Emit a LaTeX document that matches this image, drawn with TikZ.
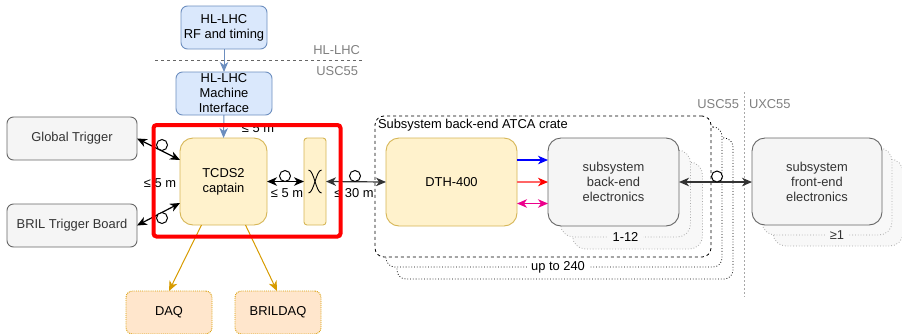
\documentclass[tikz,border=0pt]{standalone}
\usepackage{fontspec}
\setmainfont{Liberation Sans}
\usetikzlibrary{arrows.meta,calc}
\definecolor{bluefill}{HTML}{DAE8FC}
\definecolor{bluedraw}{HTML}{6C8EBF}
\definecolor{yelfill}{HTML}{FFF2CC}
\definecolor{yeldraw}{HTML}{D6B656}
\definecolor{grayfill}{HTML}{F5F5F5}
\definecolor{graydraw}{HTML}{666666}
\definecolor{graytext}{HTML}{333333}
\definecolor{orfill}{HTML}{FFE6CC}
\definecolor{ordraw}{HTML}{D79B00}
\definecolor{shadfill}{HTML}{F8F8F8}
\definecolor{shaddraw}{HTML}{A8A8A8}
\definecolor{labgray}{HTML}{808080}
\definecolor{lightred}{HTML}{FF6666}
\begin{document}
\begin{tikzpicture}[x=1pt,y=-1pt,
  font=\fontsize{12.9}{15}\selectfont,
  every node/.style={inner sep=0pt, outer sep=0pt, align=center},
  bluebox/.style={draw=bluedraw, fill=bluefill, rounded corners=6.5pt, line width=0.9pt},
  yelbox/.style={draw=yeldraw, fill=yelfill, rounded corners=13pt, line width=0.9pt},
  graybox/.style={draw=graydraw, fill=grayfill, rounded corners=6.5pt, line width=0.9pt, text=graytext},
  bigbox/.style={draw=graydraw, fill=grayfill, rounded corners=13pt, line width=0.9pt, text=graytext},
  shadbox/.style={draw=shaddraw, fill=shadfill, rounded corners=13pt, line width=0.8pt, dotted},
  orbox/.style={draw=ordraw, fill=orfill, rounded corners=6.5pt, line width=0.9pt, densely dotted},
  tipa/.tip={Stealth[length=10pt,width=8.5pt,inset=3pt]},
  link/.style={line width=1.2pt, draw=graytext, tipa-tipa},
  ring/.style={circle, draw=black, fill=white, line width=1pt, minimum size=11pt},
  dist/.style={fill=none},
  zone/.style={text=labgray}
]
\useasboundingbox (0,0) rectangle (902,333);

% ---- crate stacks (back to front)
\node[draw=black, fill=white, rounded corners=9pt, line width=0.8pt, dotted, minimum width=336pt, minimum height=141pt] (crate3) at (565,208.5) {};
\node[draw=black, fill=white, rounded corners=9pt, line width=0.8pt, dotted, minimum width=336pt, minimum height=140pt] (crate2) at (554,197) {};
\node[draw=black, fill=white, rounded corners=9pt, line width=0.8pt, dashed, minimum width=336pt, minimum height=141pt] (crate1) at (543,186.5) {};
\node[anchor=north west] (cratelab) at ($(crate1.north west)+(3,3)$) {Subsystem back-end ATCA crate};
\node[fill=white, inner xsep=4pt, inner ysep=1pt] (upto) at ($(crate2.south)+(4,0)$) {up to 240};

% ---- zone separators
\coordinate (hl) at (155,60.5);
\coordinate (hr) at (362,60.5);
\draw[draw=graydraw, dashed, line width=0.8pt] (hl) -- (hr);
\node[zone, anchor=east] (zhl) at (360,50) {HL-LHC};
\node[zone, anchor=east] (zusc) at (358,71) {USC55};
\coordinate (vt) at (744,92);
\coordinate (vb) at (744,297);
\draw[draw=shaddraw, dash pattern=on 2pt off 2pt, line width=0.9pt] (vt) -- (vb);
\node[zone, anchor=east] (zusc2) at (739,104) {USC55};
\node[zone, anchor=west] (zuxc) at (749,104) {UXC55};

% ---- top
\node[bluebox, minimum width=86pt, minimum height=43pt] (rf) at (224,27.5) {HL-LHC\\RF and timing};
\node[bluebox, minimum width=96pt, minimum height=43pt] (mi) at (224,93.5) {HL-LHC\\Machine\\Interface};

% ---- left
\node[graybox, minimum width=130pt, minimum height=43pt] (gt) at (72,138.5) {Global Trigger};
\node[graybox, minimum width=130pt, minimum height=43pt] (btb) at (72,225.5) {BRIL Trigger Board};

% ---- TCDS2 and cross-connect
\node[yelbox, minimum width=87pt, minimum height=87pt] (tcds) at (223.5,181.5) {TCDS2\\captain};
\node[yelbox, rounded corners=3pt, minimum width=22pt, minimum height=87pt] (xc) at (315,181.5) {};
\begin{scope}[shift={(xc.center)}]
\draw[line width=0.9pt] (-6.5,-11.5) .. controls (-1,-11.5) and (1,11.5) .. (6.5,11.5);
\draw[line width=0.9pt] (6.5,-11.5) .. controls (1,-11.5) and (-1,11.5) .. (-6.5,11.5);
\end{scope}

% ---- DTH and back-end
\node[yelbox, minimum width=131pt, minimum height=88pt] (dth) at (451.5,182) {DTH-400};
\node[shadbox, minimum width=130pt, minimum height=87pt] (be3) at (637.5,205.5) {};
\node[shadbox, minimum width=130pt, minimum height=87pt] (be2) at (625.5,193.5) {};
\node[fill=shadfill, inner xsep=5pt, inner ysep=1pt] (n112) at (be2.south) {1-12};
\node[bigbox, minimum width=131pt, minimum height=88pt] (be) at (613.5,182) {subsystem\\back-end\\electronics};

% ---- front-end
\node[shadbox, minimum width=130pt, minimum height=87pt] (fe3) at (838,202.5) {};
\node[shadbox, minimum width=130pt, minimum height=87pt] (fe2) at (827,191.5) {};
\node[fill=shadfill, text=graytext, inner xsep=5pt, inner ysep=1pt] (nge) at ($(fe2.south)+(10,0)$) {≥1};
\node[bigbox, minimum width=130pt, minimum height=87pt] (fe) at (817,181.5) {subsystem\\front-end\\electronics};

% ---- DAQ
\node[orbox, minimum width=86pt, minimum height=43pt] (daq) at (169,312.5) {DAQ};
\node[orbox, minimum width=86pt, minimum height=43pt] (brildaq) at (278,312.5) {BRILDAQ};

% ---- connectors
\draw[draw=bluedraw, line width=1pt, -tipa] (rf.south) -- (mi.north);
\draw[draw=bluedraw, line width=1pt, -tipa] (mi.south) -- (tcds.north);

\draw[link, draw=black] (gt.east) -- ($(tcds.west)+(0,-21.5)$);
\draw[link, draw=black] (btb.east) -- ($(tcds.west)+(0,21.5)$);
\node[ring] (r1) at (162,145) {};
\node[ring] (r2) at (162,218) {};
\node[dist] (d1) at (160,183) {≤ 5 m};

\draw[link, draw=black] (tcds.east) -- (xc.west);
\node[ring] (r3) at (285,176) {};
\node[dist] (d2) at (287,193.5) {≤ 5 m};

\draw[link] (xc.east) -- (dth.west);
\node[ring] (r4) at (355,176) {};
\node[dist] (d3) at (354,193.5) {≤ 30 m};

\draw[line width=1.2pt, draw=blue, -tipa] ($(dth.east)+(0,-22)$) -- ($(be.west)+(0,-22)$);
\draw[line width=1.2pt, draw=lightred, -{Stealth[length=10pt,width=8.5pt,inset=3pt,color=red]}] (dth.east) -- (be.west);
\draw[line width=1.2pt, draw=magenta, tipa-tipa] ($(dth.east)+(0,21.5)$) -- ($(be.west)+(0,21.5)$);

\draw[link] (be.east) -- (fe.west |- be.east);
\node[ring] (r5) at (717,176.5) {};

\draw[draw=ordraw, line width=1pt, -tipa] ($(tcds.south)+(-22,0)$) -- (daq.north);
\draw[draw=ordraw, line width=1pt, -tipa] ($(tcds.south)+(22,0)$) -- ($(brildaq.north)+(-1,0)$);

\node[dist] (d0) at (258,128.5) {≤ 5 m};

% ---- red highlight
\node[draw=red, line width=4pt, rounded corners=3pt, minimum width=187pt, minimum height=111.5pt] (hilite) at (247,180.75) {};
\end{tikzpicture}
\end{document}
